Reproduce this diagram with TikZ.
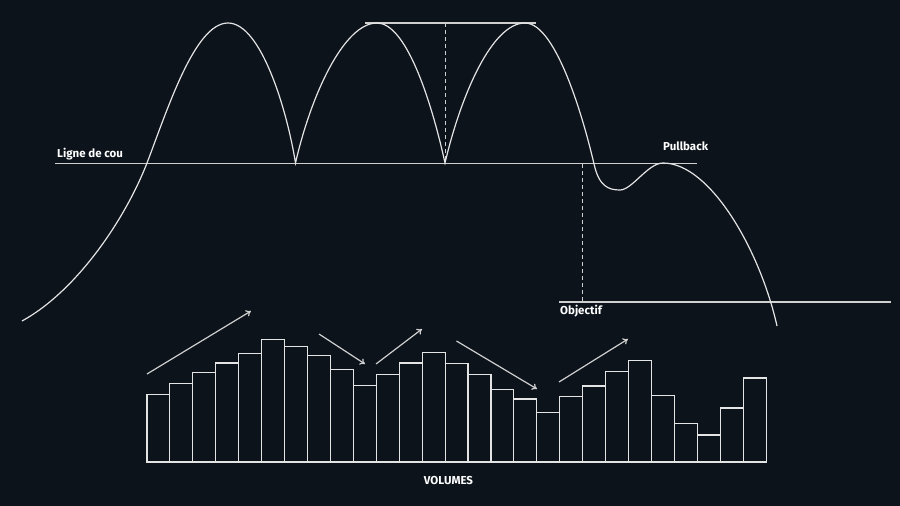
\documentclass[tikz,border=0pt]{standalone}
\usepackage{fontspec}
\setmainfont{Fira Sans}
\usetikzlibrary{arrows.meta}
\definecolor{bg}{HTML}{0C131B}
\definecolor{ln}{HTML}{E4E4E4}
\definecolor{gl}{HTML}{CFCFCF}
\begin{document}
\begin{tikzpicture}[x=1pt,y=-1pt,
  curve/.style={draw=ln,line width=1.2pt},
  guide/.style={draw=gl,line width=1.2pt},
  dashguide/.style={draw=gl,line width=1pt,dash pattern=on 4pt off 3pt},
  bar/.style={draw=ln,line width=1.1pt},
  trend/.style={draw=gl,line width=1.2pt,-{To[length=5pt,width=7pt]}},
  lbl/.style={text=white,font=\bfseries\fontsize{11.5}{13}\selectfont,inner sep=0pt}]
\fill[bg] (0,0) rectangle (900,506);
\useasboundingbox (0,0) rectangle (900,506);
% guide lines
\coordinate (nL) at (55,163.5);
\coordinate (nR) at (697,163.5);
\coordinate (tL) at (365,23);
\coordinate (tR) at (536,23);
\coordinate (d1a) at (445,23);
\coordinate (d1b) at (445,163);
\coordinate (d2a) at (582,164);
\coordinate (d2b) at (582,302);
\coordinate (oL) at (559,302);
\coordinate (oR) at (891,302);
\draw[guide] (nL) -- (nR);
\draw[guide] (tL) -- (tR);
\draw[guide] (oL) -- (oR);
\draw[dashguide] (d1a) -- (d1b);
\draw[dashguide] (d2a) -- (d2b);
% price curve
\draw[curve] (22,321) .. controls (75,292) and (124,222) .. (147,163)
 .. controls (168,108) and (195,23) .. (228,23)
 .. controls (261,23) and (287,110) .. (295.5,163)
 .. controls (311,95) and (344,23) .. (377,23)
 .. controls (405,23) and (430,95) .. (445,163)
 .. controls (461,95) and (492,23) .. (525,23)
 .. controls (557,23) and (585,125) .. (594,164)
 .. controls (599,186) and (608,190) .. (620,190)
 .. controls (632,190) and (648,163) .. (663,163)
 .. controls (710,163) and (760,250) .. (777,326);
% labels
\node[lbl,anchor=base west] (neck) at (57,157.5) {Ligne de cou};
\node[lbl,anchor=base west] (pull) at (663,150) {Pullback};
\node[lbl,anchor=base west] (obj) at (560,314.5) {Objectif};
\node[lbl,anchor=base] (vol) at (448.5,484.5) {VOLUMES};
% volume bars
\foreach \h [count=\i from 0] in {394.3,383.7,372.7,363,353.3,339.7,346.7,355.7,369.7,385.3,374.7,363,352.3,363.3,374.7,389.3,399,412.3,396.7,386,371.3,360.7,395.7,423.7,435,408,378}
  \draw[bar] ({147+\i*22.93},462) rectangle ({147+(\i+1)*22.93},\h);
% trend arrows
\coordinate (a1s) at (147,374);   \coordinate (a1e) at (251,311);
\coordinate (a2s) at (319,334);   \coordinate (a2e) at (365,364);
\coordinate (a3s) at (376,364);   \coordinate (a3e) at (422,329);
\coordinate (a4s) at (456.5,341); \coordinate (a4e) at (537,389);
\coordinate (a5s) at (559,382);   \coordinate (a5e) at (628,339);
\draw[trend] (a1s) -- (a1e);
\draw[trend] (a2s) -- (a2e);
\draw[trend] (a3s) -- (a3e);
\draw[trend] (a4s) -- (a4e);
\draw[trend] (a5s) -- (a5e);
\end{tikzpicture}
\end{document}
